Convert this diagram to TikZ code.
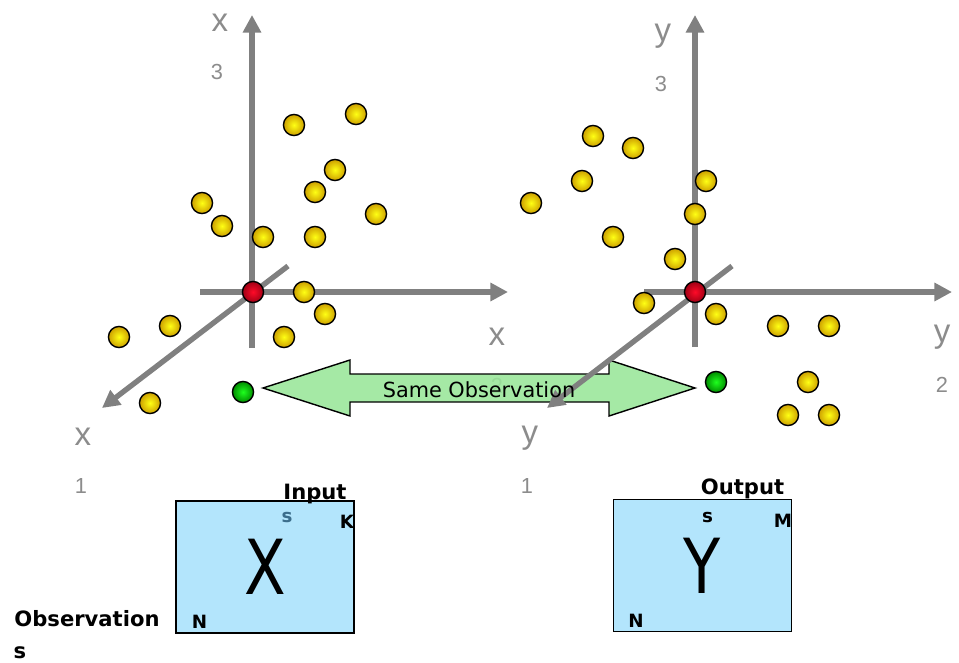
\documentclass[tikz,border=0pt]{standalone}
\usepackage{fontspec}
\setmainfont{DejaVu Sans}
\newfontfamily\axisfont{Liberation Sans}
\usetikzlibrary{arrows.meta}

\definecolor{axisgray}{RGB}{128,128,128}
\definecolor{labelgray}{RGB}{140,140,140}
\definecolor{ballyellow}{RGB}{255,255,20}
\definecolor{ballgold}{RGB}{205,160,0}
\definecolor{ballred}{RGB}{255,10,40}
\definecolor{balldarkred}{RGB}{160,0,20}
\definecolor{ballgreen}{RGB}{30,255,30}
\definecolor{balldarkgreen}{RGB}{0,140,0}
\definecolor{arrowgreen}{RGB}{153,230,153}
\definecolor{boxblue}{RGB}{179,229,252}
\definecolor{sblue}{RGB}{60,110,140}

\tikzset{
  axis/.style={axisgray, line width=3.8pt, -{Triangle[length=12.5pt,width=12.5pt]}},
  letter/.style={labelgray, anchor=base, inner sep=0pt, font=\axisfont\fontsize{23.5pt}{28pt}\selectfont},
  index/.style={labelgray, anchor=base, inner sep=0pt, font=\axisfont\fontsize{15.5pt}{18pt}\selectfont},
  ball/.style={circle, draw=black, line width=1pt, minimum size=15pt, inner sep=0pt},
  yellowball/.style={ball, inner color=ballyellow, outer color=ballgold},
  redball/.style={ball, inner color=ballred, outer color=balldarkred},
  greenball/.style={ball, inner color=ballgreen, outer color=balldarkgreen},
  matrixbox/.style={draw=black, line width=1.2pt, fill=boxblue, inner sep=0pt,
    minimum width=4.45cm, minimum height=3.3cm, font=\fontsize{54pt}{60pt}\selectfont},
  tag/.style={anchor=base, inner sep=0pt, font=\bfseries\fontsize{15pt}{18pt}\selectfont},
  dim/.style={anchor=base, inner sep=0pt, font=\bfseries\fontsize{13pt}{16pt}\selectfont},
}

\begin{document}
\begin{tikzpicture}[x=0.025cm,y=-0.025cm]
  \useasboundingbox (0,0) rectangle (959,663);

  % input space
  \coordinate (xvb) at (252,348); \coordinate (xvt) at (252,15);
  \coordinate (xhl) at (200,292); \coordinate (xhr) at (508,292);
  \coordinate (xdt) at (288,266); \coordinate (xdb) at (102,408);
  \draw[axis] (xvb) -- (xvt);
  \draw[axis] (xhl) -- (xhr);
  \draw[axis] (xdt) -- (xdb);
  \node[letter] (x3) at (220,32) {x};  \node[index] (x3i) at (217,80) {3};
  \node[letter] (x1) at (83,445) {x};  \node[index] (x1i) at (81,493) {1};
  \node[letter] (x2) at (497,345) {x}; \node[index] (x2i) at (497,393) {2};

  % same observation
  \draw[line width=1pt, fill=arrowgreen, fill opacity=0.88]
    (263,388) -- (350,360) -- (350,374) -- (609,374) -- (609,360) -- (695,388)
    -- (609,416) -- (609,402) -- (350,402) -- (350,416) -- cycle;

  % output space
  \coordinate (yvb) at (695,347); \coordinate (yvt) at (695,15);
  \coordinate (yhl) at (644,292); \coordinate (yhr) at (952,292);
  \coordinate (ydt) at (732,266); \coordinate (ydb) at (547,408);
  \draw[axis] (yvb) -- (yvt);
  \draw[axis] (yhl) -- (yhr);
  \draw[axis] (ydt) -- (ydb);
  \node[letter] (y3) at (663,42) {y};  \node[index] (y3i) at (661,92) {3};
  \node[letter] (y2) at (942,342) {y}; \node[index] (y2i) at (942,392) {2};
  \node[letter] (y1) at (530,443) {y}; \node[index] (y1i) at (527,493) {1};

  \node[anchor=base, inner sep=0pt, font=\fontsize{14.8pt}{18pt}\selectfont] (same) at (479,397) {Same Observation};

  % points
  \foreach \a/\b [count=\i] in {294/125,356/114,335/170,315/192,376/214,202/203,222/226,263/237,
      315/237,304/292,325/314,284/337,170/326,119/337,150/403}
    \node[yellowball] (xp\i) at (\a,\b) {};
  \foreach \a/\b [count=\i] in {593/136,633/148,582/181,531/203,706/181,695/214,613/237,675/259,
      644/303,716/314,778/326,829/326,808/382,788/415,829/415}
    \node[yellowball] (yp\i) at (\a,\b) {};
  \node[redball] (xo) at (253,292) {};
  \node[redball] (yo) at (695,292) {};
  \node[greenball] (xg) at (243,392) {};
  \node[greenball] (yg) at (716,382) {};

  % matrices
  \node[matrixbox] (X) at (265,567) {\scalebox{0.8}[1]{X}};
  \node[matrixbox] (Y) at (702.5,565.5) {\scalebox{0.8}[1]{Y}};
  \node[tag] (input) at (315,499) {Input};
  \node[tag] (output) at (742.5,494) {Output};
  \node[dim, text=sblue] (xs) at (287,522) {s};
  \node[dim] (xk) at (347,528) {K};
  \node[dim] (xn) at (199.5,628) {N};
  \node[dim] (ys) at (707.5,522) {s};
  \node[dim] (ym) at (783,527) {M};
  \node[dim] (yn) at (636,627) {N};
  \node[tag] (obs) at (87,626) {Observation};
  \node[tag] (obs2) at (20,658) {s};
\end{tikzpicture}
\end{document}
